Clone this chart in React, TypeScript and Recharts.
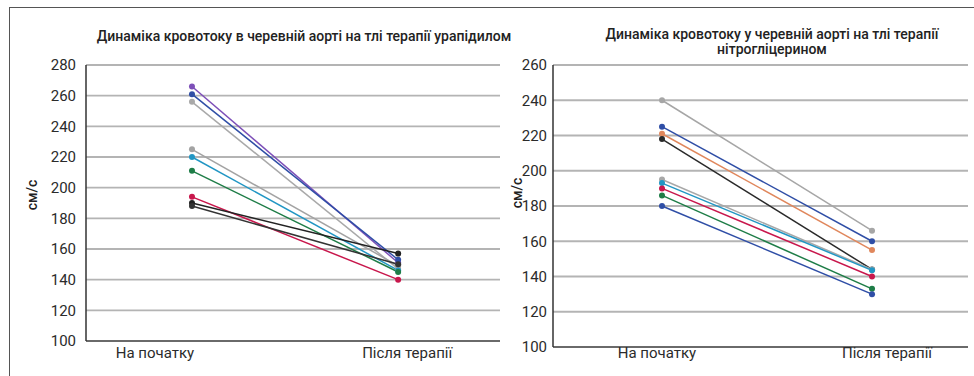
import React from 'react';
import { LineChart, Line, XAxis, YAxis, CartesianGrid } from 'recharts';

/* ── Data ───────────────────────────────────────────────────────── */
const categories = ['На початку', 'Після терапії'];

const uraTitle = 'Динаміка кровотоку в черевній аорті на тлі терапії урапідилом';
const nitroTitle = ['Динаміка кровотоку у черевній аорті на тлі терапії', 'нітрогліцерином'];
const yUnit = 'см/с';

// urapidil patients: value at start / after therapy
const uraBefore = [266, 261, 256, 225, 220, 211, 194, 190, 188];
const uraAfter = [151, 153, 147, 149, 146, 145, 140, 157, 150];
const uraColors = ['#7d4fb8', '#2f4ea6', '#a9a9a9', '#a3a3a3', '#2196c4', '#1e7d47', '#c8174c', '#222222', '#333333'];
const uraTicks = [100, 120, 140, 160, 180, 200, 220, 240, 260, 280];

// nitroglycerin patients
const nitroBefore = [240, 225, 221, 218, 195, 193, 190, 186, 180];
const nitroAfter = [166, 160, 155, 144, 144, 143.5, 140, 133, 130];
const nitroColors = ['#a6a6a6', '#2f4ea6', '#e0875c', '#2a2a2a', '#a8a8a8', '#2196c4', '#c8174c', '#1e7d47', '#2f4ea6'];
const nitroTicks = [100, 120, 140, 160, 180, 200, 220, 240, 260];

const buildRows = (before: number[], after: number[]) =>
  [before, after].map((vals, i) => {
    const row: Record<string, number> = { x: i };
    vals.forEach((v, k) => (row[`s${k}`] = v));
    return row;
  });

/* ── Styles ─────────────────────────────────────────────────────── */
const font = "Roboto, 'Noto Sans', sans-serif";
const gridColor = '#b4b4b4';
const textColor = '#2b2b2b';

const CatTick = (props: any) => {
  const { x, y, payload, offsets, dy } = props;
  const i = payload.value as number;
  return (
    <text
      x={x + offsets[i]}
      y={y + dy}
      textAnchor="middle"
      fontFamily={font}
      fontSize={15}
      fill={textColor}
    >
      {categories[i]}
    </text>
  );
};

interface PanelProps {
  before: number[];
  after: number[];
  colors: string[];
  ticks: number[];
  left: number;
  width: number;
  marginLeft: number;
  plotBottom: number;
  xDomain: [number, number];
  labelOffsets: number[];
  labelDy: number;
  id: string;
}

const Panel: React.FC<PanelProps> = ({
  before, after, colors, ticks, left, width, marginLeft, plotBottom, xDomain, labelOffsets, labelDy, id,
}) => {
  const rows = buildRows(before, after);
  const height = 376;
  const xAxisH = 20;
  return (
    <div style={{ position: 'absolute', left, top: 0 }}>
      <LineChart
        width={width}
        height={height}
        data={rows}
        margin={{ top: 65, right: 6, bottom: height - plotBottom - xAxisH, left: marginLeft }}
      >
        <CartesianGrid vertical={false} stroke={gridColor} strokeWidth={1.8} />
        <XAxis
          dataKey="x"
          type="number"
          domain={xDomain}
          ticks={[0, 1]}
          height={xAxisH}
          axisLine={{ stroke: '#6a6a6a', strokeWidth: 2 }}
          tickLine={false}
          tickSize={0}
          tickMargin={0}
          tick={<CatTick offsets={labelOffsets} dy={labelDy} />}
          allowDataOverflow
        />
        <YAxis
          domain={[ticks[0], ticks[ticks.length - 1]]}
          ticks={ticks}
          width={40}
          axisLine={{ stroke: '#333', strokeWidth: 1.5 }}
          tickLine={false}
          tickMargin={id === 'ura' ? 4 : 0}
          tick={{ fontFamily: font, fontSize: 15, fill: textColor }}
          allowDataOverflow
        />
        {before.map((_, k) => (
          <Line
            key={`${id}-${k}`}
            dataKey={`s${k}`}
            type="linear"
            stroke={colors[k]}
            strokeWidth={1.5}
            dot={{ r: 3, fill: colors[k], stroke: colors[k], strokeWidth: 0 }}
            isAnimationActive={false}
          />
        ))}
      </LineChart>
    </div>
  );
};

const titleStyle: React.CSSProperties = {
  position: 'absolute',
  fontFamily: font,
  fontSize: 14,
  fontWeight: 500,
  color: '#222',
  textAlign: 'center',
  lineHeight: '15px',
  whiteSpace: 'nowrap',
};

const unitStyle: React.CSSProperties = {
  position: 'absolute',
  fontFamily: font,
  fontSize: 14,
  fontWeight: 500,
  color: '#222',
  transform: 'translate(-50%, -50%) rotate(-90deg)',
  whiteSpace: 'nowrap',
};

export default function App() {
  return (
    <div style={{ position: 'relative', width: 974, height: 376, background: '#fff', overflow: 'hidden' }}>
      <style>{'body{margin:0}'}</style>
      {/* frame */}
      <div
        style={{
          position: 'absolute',
          left: 9,
          top: 7,
          width: 980,
          height: 400,
          borderTop: '1.5px solid #555',
          borderLeft: '1.5px solid #555',
        }}
      />
      <div style={{ ...titleStyle, left: 304, top: 29, transform: 'translateX(-50%)' }}>{uraTitle}</div>
      <div style={{ ...titleStyle, left: 772, top: 27, transform: 'translateX(-50%)' }}>
        {nitroTitle[0]}
        <br />
        {nitroTitle[1]}
      </div>

      <Panel
        id="ura"
        before={uraBefore}
        after={uraAfter}
        colors={uraColors}
        ticks={uraTicks}
        left={0}
        width={506}
        marginLeft={46}
        plotBottom={341}
        xDomain={[-0.514, 1.494]}
        labelOffsets={[-37, 9]}
        labelDy={17}
      />
      <Panel
        id="nitro"
        before={nitroBefore}
        after={nitroAfter}
        colors={nitroColors}
        ticks={nitroTicks}
        left={500}
        width={474}
        marginLeft={13}
        plotBottom={347}
        xDomain={[-0.519, 1.457]}
        labelOffsets={[-5, 15]}
        labelDy={11}
      />

      <div style={{ ...unitStyle, left: 32, top: 195 }}>{yUnit}</div>
      <div style={{ ...unitStyle, left: 517, top: 193 }}>{yUnit}</div>
    </div>
  );
}
